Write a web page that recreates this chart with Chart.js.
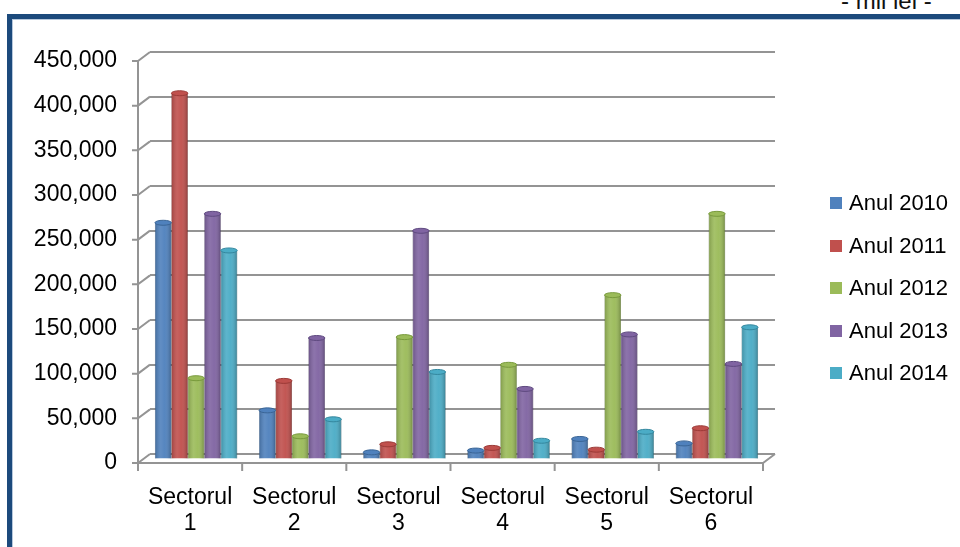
<!DOCTYPE html>
<html>
<head>
<meta charset="utf-8">
<script src="https://cdn.jsdelivr.net/npm/chart.js@4/dist/chart.umd.min.js"></script>
<style>
  html, body { margin: 0; padding: 0; background: #fff; }
  body { width: 960px; height: 547px; position: relative; overflow: hidden; font-family: "Liberation Sans", Arial, sans-serif; }
  .frame { position: absolute; left: 7px; top: 14px; width: 980px; height: 560px;
           border-left: 5px solid #1c4a7c; border-top: 5px solid #1c4a7c; box-shadow: inset 1px 1px 0 #b7c8dc; }
  .unit { position: absolute; left: 841px; top: -13px; font-size: 24px; color: #111; white-space: pre; }
  #chart { position: absolute; left: 0; top: 0; }
  .legend { position: absolute; left: 830px; top: 182px; }
  .legend div { height: 42.5px; display: flex; align-items: center; font-size: 22px; color: #000; white-space: nowrap; }
  .legend span { display: inline-block; width: 12px; height: 12px; margin-right: 7px; }
</style>
</head>
<body>
<div class="frame"></div>
<div class="unit">- mii lei -</div>
<canvas id="chart" width="960" height="547"></canvas>
<div class="legend" id="legend"></div>
<script>
// values in thousands of lei (mii lei)
const sectors = [['Sectorul', '1'], ['Sectorul', '2'], ['Sectorul', '3'], ['Sectorul', '4'], ['Sectorul', '5'], ['Sectorul', '6']];
const an2010 = [265000, 55000, 8000, 10000, 23000, 18000];
const an2011 = [410000, 88000, 17000, 13000, 11000, 35000];
const an2012 = [91000, 26000, 137000, 106000, 184000, 275000];
const an2013 = [275000, 136000, 256000, 79000, 140000, 107000];
const an2014 = [234000, 45000, 98000, 21000, 31000, 148000];
const seriesNames = ['Anul 2010', 'Anul 2011', 'Anul 2012', 'Anul 2013', 'Anul 2014'];
const seriesData = [an2010, an2011, an2012, an2013, an2014];
const colors = ['#4f81bd', '#c0504d', '#9bbb59', '#8064a2', '#4bacc6'];
const edges = ['#3a6596', '#9b3a37', '#789a3c', '#5f4a80', '#34879e'];

const FONT = '"Liberation Sans", Arial, sans-serif';
const DX = 12, DY = 9;       // depth of the 3D floor (front axis offset)
const AXIS = '#949494';

// draws the front axis, floor edge and cylinder look of the 3D columns
const depthPlugin = {
    id: 'depth',
    beforeDatasetsDraw(chart) {
        const { ctx, chartArea: a, scales: { x, y } } = chart;
        ctx.save();
        ctx.strokeStyle = AXIS;
        ctx.lineWidth = 2;
        const fx = a.left - DX;
        ctx.beginPath();
        ctx.moveTo(fx, a.top + DY);
        ctx.lineTo(fx, a.bottom + DY);
        y.ticks.forEach(t => {
            const py = y.getPixelForValue(t.value);
            ctx.moveTo(fx - 6, py + DY);
            ctx.lineTo(fx, py + DY);
            ctx.lineTo(a.left, py);
        });
        // front floor edge
        ctx.moveTo(fx, a.bottom + DY);
        ctx.lineTo(a.right - DX, a.bottom + DY);
        ctx.lineTo(a.right, a.bottom);
        const step = (x.right - x.left) / sectors.length;
        for (let i = 0; i <= sectors.length; i++) {
            const px = x.left + i * step - DX;
            ctx.moveTo(px, a.bottom + DY);
            ctx.lineTo(px, a.bottom + DY + 8);
        }
        ctx.stroke();
        ctx.restore();

        ctx.save();
        ctx.translate(-DX / 2, DY / 2 + 1);
    },
    afterDatasetsDraw(chart) {
        const { ctx } = chart;
        chart.data.datasets.forEach((ds, di) => {
            chart.getDatasetMeta(di).data.forEach(bar => {
                const l = bar.x - bar.width / 2, w = bar.width;
                const g = ctx.createLinearGradient(l, 0, l + w, 0);
                g.addColorStop(0, 'rgba(0,0,0,0.18)');
                g.addColorStop(0.35, 'rgba(255,255,255,0.10)');
                g.addColorStop(0.6, 'rgba(255,255,255,0.04)');
                g.addColorStop(1, 'rgba(0,0,0,0.26)');
                ctx.fillStyle = g;
                ctx.fillRect(l, bar.y, w, bar.base - bar.y);
                ctx.beginPath();
                ctx.ellipse(bar.x, bar.y, w / 2, 2.5, 0, 0, Math.PI * 2);
                ctx.fillStyle = colors[di];
                ctx.fill();
                ctx.strokeStyle = edges[di];
                ctx.lineWidth = 1;
                ctx.stroke();
            });
        });
        ctx.restore();
    }
};

new Chart(document.getElementById('chart'), {
    type: 'bar',
    data: {
        labels: sectors,
        datasets: seriesNames.map((name, i) => ({
            label: name,
            data: seriesData[i],
            backgroundColor: colors[i],
            borderColor: edges[i],
            borderWidth: 0.5,
            categoryPercentage: 0.79,
            barPercentage: 1
        }))
    },
    options: {
        responsive: false, animation: false,
        layout: { padding: { left: 0, top: 52, right: 185, bottom: 0 } },
        scales: {
            x: {
                grid: { display: false },
                border: { display: false },
                ticks: { color: '#000', padding: 23, labelOffset: -DX, font: { family: FONT, size: 23, lineHeight: 1.12 } },
                afterFit: s => { s.height = 93; }
            },
            y: {
                min: 0, max: 450000,
                grid: { color: AXIS, lineWidth: 2, drawTicks: false },
                border: { display: false },
                ticks: {
                    stepSize: 50000, color: '#000', padding: 33, labelOffset: DY,
                    font: { family: FONT, size: 23 },
                    callback: v => v.toLocaleString('en-US')
                },
                afterFit: s => { s.width = 150; }
            }
        },
        plugins: {
            legend: { display: false }
        }
    },
    plugins: [depthPlugin]
});

// HTML legend on the right
document.getElementById('legend').innerHTML = seriesNames
    .map((n, i) => '<div><span style="background:' + colors[i] + '"></span>' + n + '</div>').join('');
</script>
</body>
</html>
